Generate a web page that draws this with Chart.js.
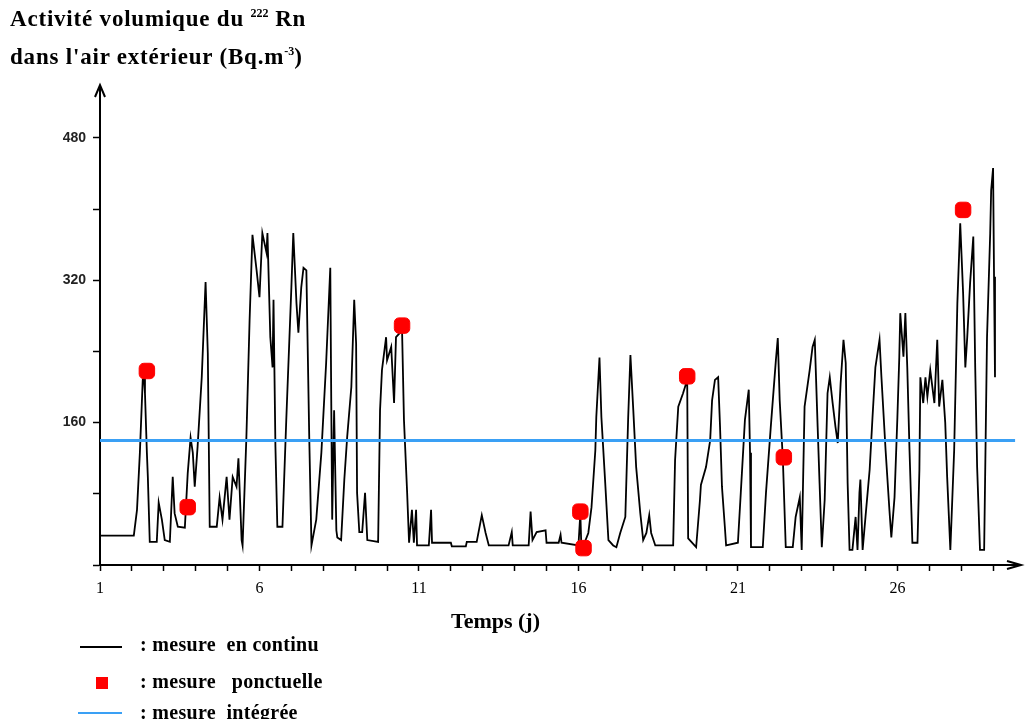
<!DOCTYPE html>
<html>
<head>
<meta charset="utf-8">
<script src="https://cdn.jsdelivr.net/npm/chart.js@4"></script>
<style>
  body { margin: 0; background: #fff; }
  #wrap { position: relative; width: 1027px; height: 719px; }
  .txt { position: absolute; font-family: "Liberation Serif", serif; font-weight: bold; color: #000; white-space: pre; line-height: 1.15; }
  .txt sup { font-size: 12px; vertical-align: 9px; line-height: 0; letter-spacing: 0; }
  .titre { font-size: 23px; letter-spacing: 0.8px; }
  .leg { font-size: 20px; letter-spacing: 0.3px; }
</style>
</head>
<body>
<div id="wrap">
  <canvas id="c"></canvas>
  <div class="txt titre" style="left:10px; top:6px;">Activité volumique du <sup>222</sup> Rn</div>
  <div class="txt titre" style="left:10px; top:44px;">dans l'air extérieur (Bq.m<sup>-3</sup>)</div>

  <div class="txt" style="left:451px; top:608px; font-size:22px;">Temps (j)</div>

  <div style="position:absolute; left:80px; top:646px; width:42px; border-top:2px solid #000;"></div>
  <div class="txt leg" style="left:140px; top:633px;">: mesure  en continu</div>
  <div style="position:absolute; left:96px; top:677px; width:12px; height:12px; background:#f00;"></div>
  <div class="txt leg" style="left:140px; top:670px;">: mesure   ponctuelle</div>
  <div style="position:absolute; left:78px; top:712px; width:44px; border-top:2px solid #3aa0f5;"></div>
  <div class="txt leg" style="left:140px; top:701px;">: mesure  intégrée</div>
</div>
<script>
// mesure en continu (jours, Bq/m3)
const joursContinu = [
  1.00, 2.06, 2.16, 2.25, 2.34, 2.38, 2.41, 2.47, 2.50, 2.56, 2.78, 2.84, 2.94, 3.03, 3.19, 3.28, 3.34, 3.44, 3.66, 3.75,
  3.84, 3.91, 3.97, 4.06, 4.19, 4.31, 4.38, 4.44, 4.66, 4.75, 4.84, 4.97, 5.06, 5.16, 5.28, 5.34, 5.44, 5.47, 5.59, 5.69,
  5.78, 5.91, 6.00, 6.09, 6.22, 6.25, 6.34, 6.41, 6.44, 6.50, 6.56, 6.72, 6.84, 7.00, 7.06, 7.16, 7.22, 7.31, 7.38, 7.47,
  7.56, 7.63, 7.78, 7.94, 8.09, 8.22, 8.25, 8.28, 8.34, 8.41, 8.44, 8.56, 8.66, 8.75, 8.88, 8.97, 9.03, 9.06, 9.13, 9.22,
  9.31, 9.38, 9.72, 9.78, 9.84, 9.97, 10.00, 10.13, 10.22, 10.28, 10.41, 10.47, 10.53, 10.63, 10.69, 10.78, 10.84, 10.91, 10.94, 11.31,
  11.38, 11.41, 12.00, 12.03, 12.47, 12.50, 12.81, 12.97, 13.09, 13.19, 13.81, 13.91, 13.94, 14.44, 14.50, 14.56, 14.69, 14.97, 15.00, 15.38,
  15.44, 15.47, 16.00, 16.06, 16.09, 16.16, 16.31, 16.41, 16.53, 16.56, 16.66, 16.72, 16.84, 16.94, 17.09, 17.19, 17.31, 17.47, 17.56, 17.63,
  17.72, 17.81, 17.94, 18.03, 18.13, 18.22, 18.28, 18.41, 18.97, 19.03, 19.13, 19.28, 19.41, 19.44, 19.69, 19.81, 19.84, 20.00, 20.13, 20.19,
  20.28, 20.38, 20.44, 20.50, 20.59, 20.63, 21.00, 21.09, 21.22, 21.34, 21.38, 21.41, 21.78, 21.88, 22.03, 22.19, 22.25, 22.31, 22.41, 22.50,
  22.72, 22.81, 22.94, 23.00, 23.09, 23.25, 23.34, 23.41, 23.50, 23.56, 23.63, 23.72, 23.81, 23.88, 23.97, 24.06, 24.13, 24.22, 24.31, 24.38,
  24.44, 24.50, 24.59, 24.69, 24.75, 24.81, 24.84, 24.91, 25.00, 25.13, 25.22, 25.31, 25.44, 25.50, 25.63, 25.75, 25.81, 25.91, 26.00, 26.06,
  26.09, 26.19, 26.25, 26.31, 26.38, 26.47, 26.63, 26.69, 26.72, 26.81, 26.88, 26.94, 27.03, 27.16, 27.25, 27.31, 27.41, 27.50, 27.56, 27.66,
  27.78, 27.88, 27.97, 28.06, 28.13, 28.19, 28.28, 28.38, 28.44, 28.50, 28.59, 28.72, 28.81, 28.91, 28.94, 29.00, 29.03, 29.06
];
const valeursContinu = [
  33, 33, 62, 126, 208, 210, 193, 126, 99, 26, 26, 70, 51, 28, 26, 99, 58, 43, 42, 103,
  143, 126, 88, 133, 211, 318, 238, 43, 43, 76, 51, 99, 51, 99, 88, 120, 28, 22, 144, 275,
  371, 331, 301, 373, 351, 373, 256, 222, 298, 133, 43, 43, 163, 312, 373, 294, 261, 312, 334, 331,
  144, 22, 51, 126, 227, 334, 185, 51, 174, 39, 31, 28, 96, 144, 200, 298, 249, 81, 37, 37,
  81, 28, 26, 174, 219, 256, 230, 245, 182, 256, 261, 264, 163, 81, 25, 62, 25, 62, 22, 22,
  62, 25, 25, 21, 21, 26, 26, 56, 36, 22, 22, 37, 22, 22, 60, 28, 37, 39, 25, 25,
  34, 25, 22, 58, 22, 22, 36, 65, 129, 166, 233, 166, 92, 28, 22, 20, 36, 54, 166, 236,
  174, 110, 58, 28, 36, 56, 36, 22, 22, 118, 178, 193, 208, 30, 20, 73, 90, 110, 140, 185,
  208, 211, 155, 88, 43, 22, 25, 81, 163, 197, 126, 20, 20, 81, 155, 230, 255, 185, 118, 20,
  20, 54, 76, 17, 178, 219, 245, 253, 155, 92, 20, 73, 193, 211, 182, 155, 137, 204, 253, 227,
  92, 17, 17, 54, 17, 81, 96, 17, 54, 107, 166, 222, 253, 211, 129, 62, 31, 76, 166, 234,
  283, 234, 283, 222, 129, 25, 25, 107, 211, 182, 211, 189, 219, 182, 253, 178, 208, 160, 99, 17,
  129, 294, 384, 306, 222, 256, 317, 369, 222, 110, 17, 17, 256, 373, 421, 446, 324, 211
];

// mesure ponctuelle
const joursPonctuel = [2.47, 3.75, 10.47, 16.06, 16.16, 19.41, 22.44, 28.06];
const valeursPonctuel = [218, 65, 269, 60, 19, 212, 121, 399];

// mesure intégrée
const valeurIntegree = 140;
const joursIntegree = [1, 29.69];

// axes
const xLabels = [1, 6, 11, 16, 21, 26];
const yLabels = [160, 320, 480];
const xMin = 1, xMax = 29.75;
const yMin = 0, yMax = 536;

const toXY = (xs, ys) => xs.map((x, i) => ({ x: x, y: ys[i] }));

const arrows = {
  id: "arrows",
  afterDraw(chart) {
    const { ctx, chartArea } = chart;
    ctx.save();
    ctx.strokeStyle = "#000";
    ctx.lineWidth = 2;
    ctx.beginPath();
    ctx.moveTo(chartArea.left - 5, chartArea.top + 9);
    ctx.lineTo(chartArea.left, chartArea.top - 3);
    ctx.lineTo(chartArea.left + 5, chartArea.top + 9);
    ctx.moveTo(chartArea.left, chartArea.top - 3);
    ctx.lineTo(chartArea.left, chartArea.top + 2);
    ctx.moveTo(chartArea.right - 10, chartArea.bottom - 4);
    ctx.lineTo(chartArea.right + 4, chartArea.bottom);
    ctx.lineTo(chartArea.right - 10, chartArea.bottom + 4);
    ctx.stroke();
    ctx.restore();
  }
};

new Chart(document.getElementById("c"), {
  type: "line",
  data: {
    datasets: [
      {
        label: "mesure ponctuelle",
        data: toXY(joursPonctuel, valeursPonctuel),
        showLine: false,
        pointStyle: "rectRounded",
        pointRadius: 9,
        backgroundColor: "#ff0000",
        borderColor: "#ff0000",
        order: 0
      },
      {
        label: "mesure intégrée",
        data: toXY(joursIntegree, joursIntegree.map(() => valeurIntegree)),
        borderColor: "#3aa0f5",
        borderWidth: 3,
        pointRadius: 0,
        order: 1
      },
      {
        label: "mesure en continu",
        data: toXY(joursContinu, valeursContinu),
        borderColor: "#000",
        borderWidth: 1.8,
        pointRadius: 0,
        tension: 0,
        order: 2
      }
    ]
  },
  options: {
    responsive: true,
    maintainAspectRatio: false,
    animation: false,
    layout: { padding: { top: 88, right: 7, bottom: 79, left: 0 } },
    plugins: { legend: { display: false }, tooltip: { enabled: false } },
    scales: {
      x: {
        type: "linear",
        min: xMin,
        max: xMax,
        afterFit: (s) => { s.height = 75; },
        border: { color: "#000", width: 2 },
        grid: { drawOnChartArea: false, drawTicks: true, tickLength: 6, tickColor: "#000", tickWidth: 1.5 },
        ticks: {
          stepSize: 1,
          includeBounds: false,
          autoSkip: false,
          maxRotation: 0,
          padding: 8,
          color: "#000",
          font: { family: "Liberation Serif", size: 16 },
          callback: (v) => xLabels.includes(v) ? String(v) : ""
        }
      },
      y: {
        min: yMin,
        max: yMax,
        afterFit: (s) => { s.width = 100; },
        border: { color: "#000", width: 2 },
        grid: { drawOnChartArea: false, drawTicks: true, tickLength: 7, tickColor: "#000", tickWidth: 1.5 },
        ticks: {
          stepSize: 80,
          includeBounds: false,
          autoSkip: false,
          padding: 7,
          color: "#222",
          font: { family: "Liberation Sans", size: 14, weight: "bold" },
          callback: (v) => yLabels.includes(v) ? String(v) : ""
        }
      }
    }
  },
  plugins: [arrows]
});
</script>
</body>
</html>
